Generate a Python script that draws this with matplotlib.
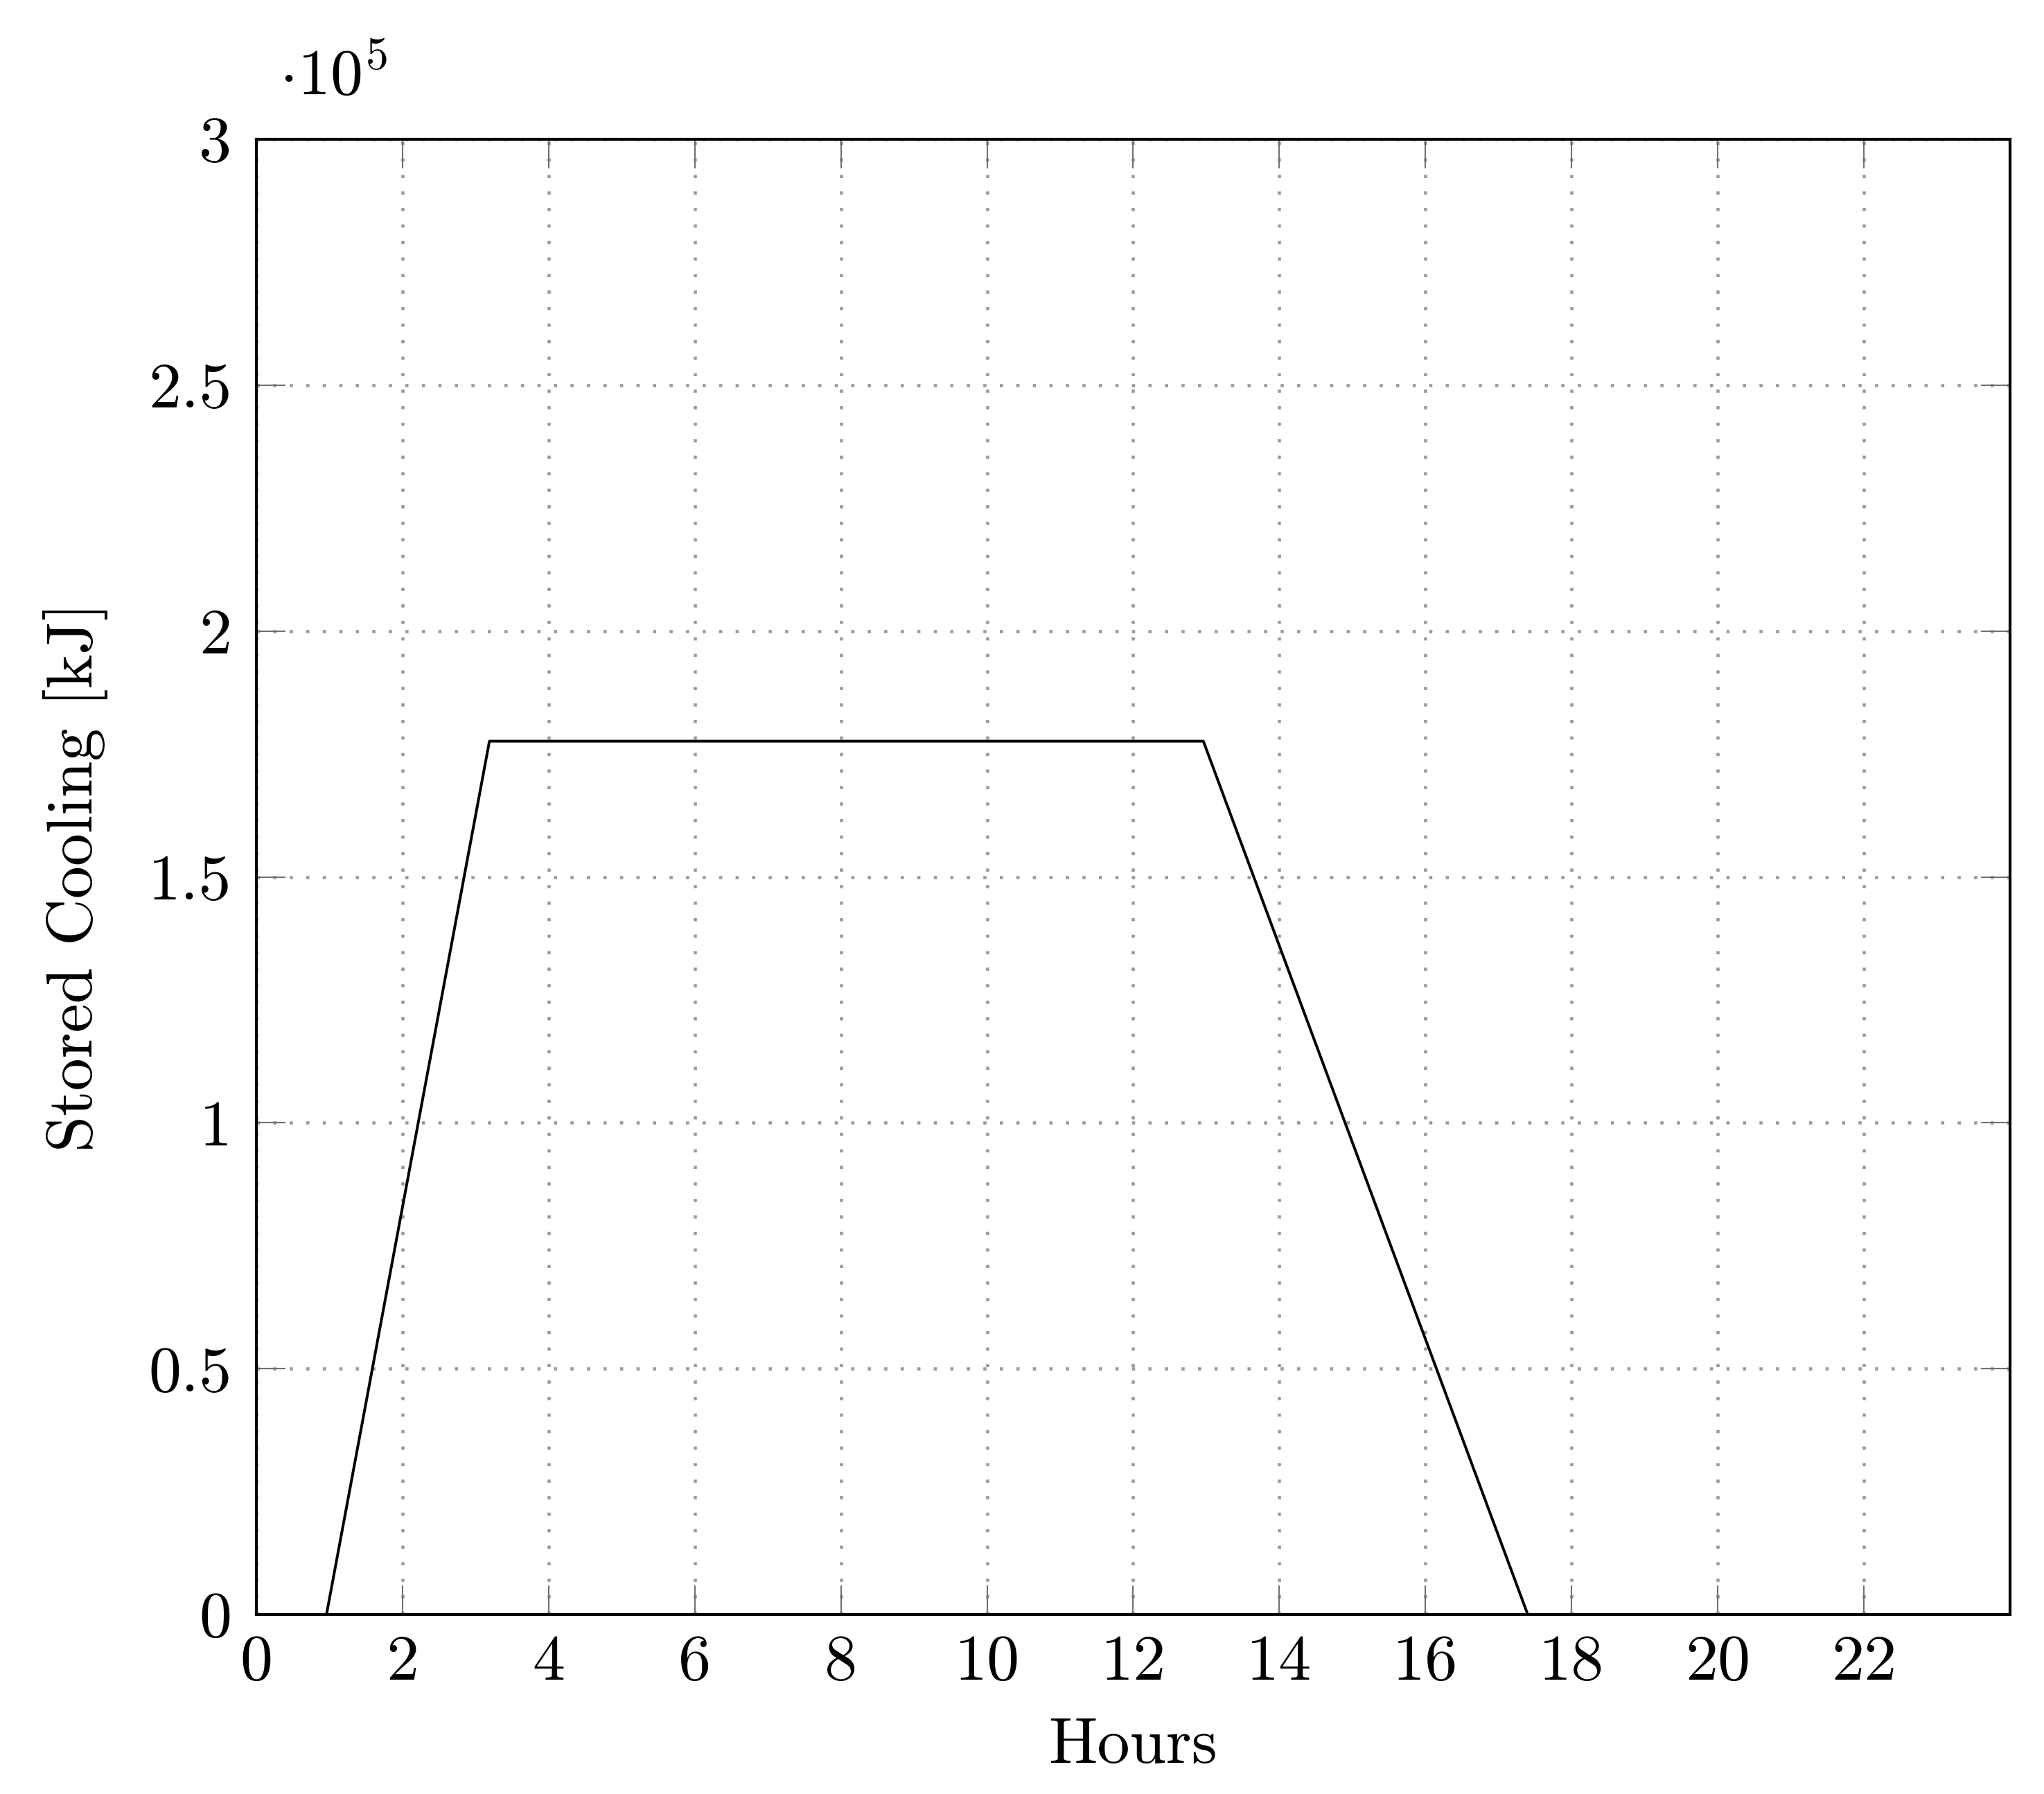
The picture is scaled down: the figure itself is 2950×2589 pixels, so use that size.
import matplotlib
matplotlib.use("Agg")
import matplotlib.pyplot as plt

# ---- data ----
hours = [0.0, 0.96, 3.19, 12.96, 17.40, 24.0]
stored_cooling_kj = [0.0, 0.0, 1.776e5, 1.776e5, 0.0, 0.0]

x_ticks = [0, 2, 4, 6, 8, 10, 12, 14, 16, 18, 20, 22]
x_tick_labels = [str(t) for t in x_ticks]
y_ticks = [0, 0.5e5, 1.0e5, 1.5e5, 2.0e5, 2.5e5, 3.0e5]
y_tick_labels = ["0", "0.5", "1", "1.5", "2", "2.5", "3"]
x_label = "Hours"
y_label = "Stored Cooling [kJ]"
multiplier = r"$\cdot 10^{5}$"

plt.rcParams["font.family"] = ["cmr10", "DejaVu Serif"]
plt.rcParams["mathtext.fontset"] = "cm"
plt.rcParams["axes.unicode_minus"] = False

FS = 22.6
fig = plt.figure(figsize=(2950 / 300, 2589 / 300), dpi=300)
ax = fig.add_axes([0.1254, 0.1000, 0.9834 - 0.1254, 0.9224 - 0.1000])

ax.plot(hours, stored_cooling_kj, color="black", linewidth=0.95, zorder=3)

ax.set_xlim(0, 24)
ax.set_ylim(0, 3e5)
ax.set_xticks(x_ticks)
ax.set_xticklabels(x_tick_labels, fontsize=FS)
ax.set_yticks(y_ticks)
ax.set_yticklabels(y_tick_labels, fontsize=FS)

ax.grid(True, color="#9a9a9a", linestyle=(0, (1, 4.2)), linewidth=1.1, zorder=0)

ax.tick_params(axis="both", which="major", direction="in", length=10, width=0.5,
               color="#707070", top=True, right=True)
ax.tick_params(axis="x", pad=7)
ax.tick_params(axis="y", pad=8.5)

for sp in ax.spines.values():
    sp.set_linewidth(1.0)
    sp.set_color("black")
    sp.set_zorder(4)

ax.set_xlabel(x_label, fontsize=FS, labelpad=9)
ax.set_ylabel(y_label, fontsize=FS, labelpad=14)

ax.text(0.013, 1.030, multiplier, transform=ax.transAxes, fontsize=FS,
        ha="left", va="baseline")

fig.savefig("out.png", dpi=300, facecolor="white")
